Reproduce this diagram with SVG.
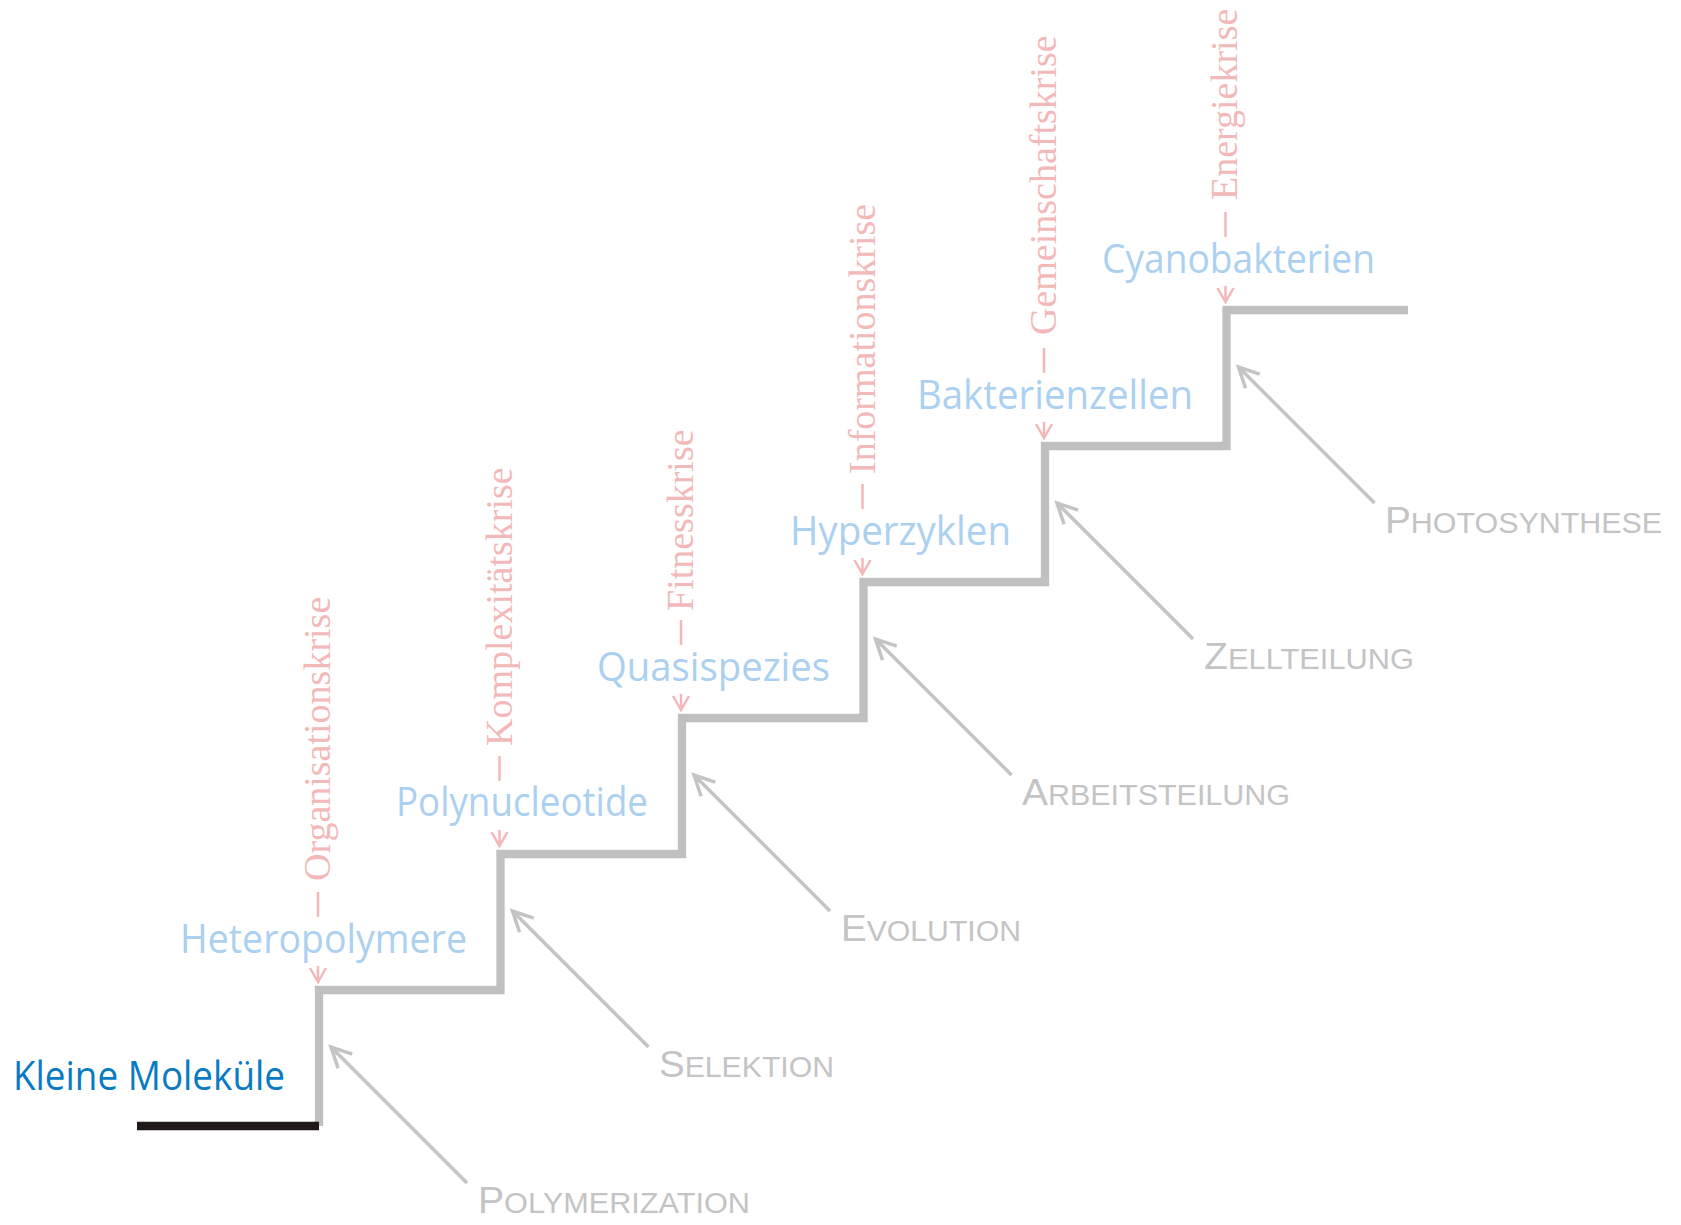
<svg xmlns="http://www.w3.org/2000/svg" width="1681" height="1225" viewBox="0 0 1681 1225">
<defs>
<style>
.stair{fill:none;stroke:#c0c0c0;stroke-width:8.3;stroke-linejoin:miter}
.base{fill:none;stroke:#1f1a17;stroke-width:8.3}
.garrow{stroke:#c4c4c4;stroke-width:3.5;fill:none;marker-end:url(#gh)}
.pline{stroke:#f3b8b8;stroke-width:2.5;fill:none}
.parrow{stroke:#f3b8b8;stroke-width:2.5;fill:none;marker-end:url(#ph)}
.blue{font-family:"Open Sans","DejaVu Sans",sans-serif;font-size:40px;fill:#acd0f0}
.dark{font-family:"Open Sans","DejaVu Sans",sans-serif;font-size:40px;fill:#0a7bc2}
.crisis{font-family:"Liberation Serif","Times New Roman",serif;font-size:38px;fill:#f3b8b8}
.proc{font-family:"Liberation Sans",Arial,sans-serif;font-size:29px;fill:#c4c4c4}
.cap{font-size:37px}
</style>
<marker id="gh" markerUnits="userSpaceOnUse" viewBox="-24 -13 28 26" refX="0" refY="0" markerWidth="28" markerHeight="26" orient="auto">
<path d="M-20,-10 L0,0 L-20,10" fill="none" stroke="#c4c4c4" stroke-width="3.5"/>
</marker>
<marker id="ph" markerUnits="userSpaceOnUse" viewBox="-18 -11 21 22" refX="0" refY="0" markerWidth="21" markerHeight="22" orient="auto">
<path d="M-14,-8 L0,0 L-14,8" fill="none" stroke="#f3b8b8" stroke-width="2.5"/>
</marker>
</defs>
<rect width="1681" height="1225" fill="#ffffff"/>

<g id="stairs">
<path class="stair" d="M319,1126 V990 H500.5 V854 H682 V718 H863.5 V582 H1045 V446 H1226.5 V310 H1408"/>
<path class="base" d="M137,1126 H319"/>
</g>

<g id="connectors">
<line class="garrow" x1="467" y1="1183" x2="331" y2="1047"/>
<line class="garrow" x1="648.5" y1="1047" x2="512.5" y2="911"/>
<line class="garrow" x1="830" y1="911" x2="694" y2="775"/>
<line class="garrow" x1="1011.5" y1="775" x2="875.5" y2="639"/>
<line class="garrow" x1="1193" y1="639" x2="1057" y2="503"/>
<line class="garrow" x1="1374.5" y1="503" x2="1238.5" y2="367"/>

<line class="pline" x1="318" y1="892" x2="318" y2="917"/>
<line class="parrow" x1="318" y1="966" x2="318" y2="982"/>
<line class="pline" x1="499.5" y1="756" x2="499.5" y2="781"/>
<line class="parrow" x1="499.5" y1="830" x2="499.5" y2="846"/>
<line class="pline" x1="681" y1="620" x2="681" y2="645"/>
<line class="parrow" x1="681" y1="694" x2="681" y2="710"/>
<line class="pline" x1="862.5" y1="484" x2="862.5" y2="509"/>
<line class="parrow" x1="862.5" y1="558" x2="862.5" y2="574"/>
<line class="pline" x1="1044" y1="348" x2="1044" y2="373"/>
<line class="parrow" x1="1044" y1="422" x2="1044" y2="438"/>
<line class="pline" x1="1225.5" y1="212" x2="1225.5" y2="237"/>
<line class="parrow" x1="1225.5" y1="286" x2="1225.5" y2="302"/>
</g>

<g id="node-kleine-molekuele">
<text class="dark" x="13" y="1090" textLength="272" lengthAdjust="spacingAndGlyphs">Kleine Moleküle</text>
</g>

<g id="node-heteropolymere">
<text class="blue" x="180" y="953" textLength="287" lengthAdjust="spacingAndGlyphs">Heteropolymere</text>
<text class="crisis" transform="translate(330,881) rotate(-90)">Organisationskrise</text>
<text class="proc" x="478" y="1213" textLength="272" lengthAdjust="spacingAndGlyphs"><tspan class="cap">P</tspan>OLYMERIZATION</text>
</g>

<g id="node-polynucleotide">
<text class="blue" x="396" y="816" textLength="252" lengthAdjust="spacingAndGlyphs">Polynucleotide</text>
<text class="crisis" transform="translate(511.5,746) rotate(-90)">Komplexitätskrise</text>
<text class="proc" x="659" y="1077" textLength="175" lengthAdjust="spacingAndGlyphs"><tspan class="cap">S</tspan>ELEKTION</text>
</g>

<g id="node-quasispezies">
<text class="blue" x="597" y="681" textLength="233" lengthAdjust="spacingAndGlyphs">Quasispezies</text>
<text class="crisis" transform="translate(693,611) rotate(-90)">Fitnesskrise</text>
<text class="proc" x="841" y="941" textLength="180" lengthAdjust="spacingAndGlyphs"><tspan class="cap">E</tspan>VOLUTION</text>
</g>

<g id="node-hyperzyklen">
<text class="blue" x="790" y="545" textLength="221" lengthAdjust="spacingAndGlyphs">Hyperzyklen</text>
<text class="crisis" transform="translate(874.5,474) rotate(-90)">Informationskrise</text>
<text class="proc" x="1022" y="805" textLength="268" lengthAdjust="spacingAndGlyphs"><tspan class="cap">A</tspan>RBEITSTEILUNG</text>
</g>

<g id="node-bakterienzellen">
<text class="blue" x="917" y="409" textLength="276" lengthAdjust="spacingAndGlyphs">Bakterienzellen</text>
<text class="crisis" transform="translate(1056,335) rotate(-90)">Gemeinschaftskrise</text>
<text class="proc" x="1204" y="669" textLength="210" lengthAdjust="spacingAndGlyphs"><tspan class="cap">Z</tspan>ELLTEILUNG</text>
</g>

<g id="node-cyanobakterien">
<text class="blue" x="1102" y="273" textLength="273" lengthAdjust="spacingAndGlyphs">Cyanobakterien</text>
<text class="crisis" transform="translate(1237,200) rotate(-90)">Energiekrise</text>
<text class="proc" x="1385" y="533" textLength="277" lengthAdjust="spacingAndGlyphs"><tspan class="cap">P</tspan>HOTOSYNTHESE</text>
</g>
</svg>
